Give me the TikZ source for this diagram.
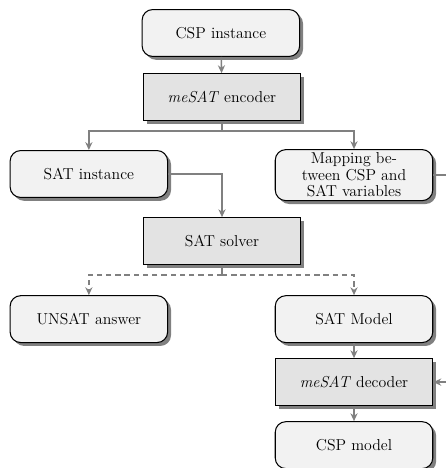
\documentclass[tikz,border=0pt]{standalone}
\usetikzlibrary{positioning,shadows,arrows.meta}

\tikzset{
  data/.style={draw, thick, rounded corners=8pt, fill=gray!10, minimum width=4.2cm,
    minimum height=1.25cm, align=center, font=\large,
    drop shadow={shadow xshift=0.9mm, shadow yshift=-0.9mm, opacity=1, fill=black!50}},
  proc/.style={draw, thick, fill=gray!22, minimum width=4.2cm, minimum height=1.25cm,
    align=center, font=\large,
    drop shadow={shadow xshift=0.9mm, shadow yshift=-0.9mm, opacity=1, fill=black!50}},
  flow/.style={draw=gray, very thick, -{Stealth[length=2.1mm,width=1.9mm]}},
}

\begin{document}
\begin{tikzpicture}
  \useasboundingbox (0,0) rectangle (11.89,-12.48);

  % nodes
  \node[data] (cspinst) at (5.89,-0.88) {CSP instance};
  \node[proc] (encoder) at (5.92,-2.59) {\textit{meSAT} encoder};
  \node[data] (satinst) at (2.37,-4.64) {SAT instance};
  \node[data, minimum height=1.36cm, inner sep=2pt] (mapping) at (9.44,-4.67) {Mapping be-\\[-1.5pt]tween CSP and\\[-1.5pt]SAT variables};
  \node[proc] (solver) at (5.92,-6.43) {SAT solver};
  \node[data] (unsat) at (2.37,-8.51) {UNSAT answer};
  \node[data] (satmodel) at (9.44,-8.51) {SAT Model};
  \node[proc] (decoder) at (9.44,-10.19) {\textit{meSAT} decoder};
  \node[data] (cspmodel) at (9.44,-11.87) {CSP model};

  \coordinate (encsplit) at (5.92,-3.49);
  \coordinate (solsplit) at (5.92,-7.33);
  \coordinate (mapturn) at (12.4,-4.67);

  % connectors
  \draw[flow] (cspinst) -- (encoder);
  \draw[very thick, draw=gray] (encoder.south) -- (encsplit);
  \draw[flow] (encsplit) -| (satinst.north);
  \draw[flow] (encsplit) -| (mapping.north);
  \draw[flow] (satinst.east) -| (solver.north);
  \draw[very thick, draw=gray] (solver.south) -- (solsplit);
  \draw[flow, dash pattern=on 4pt off 3pt] (solsplit) -| (unsat.north);
  \draw[flow, dash pattern=on 4pt off 3pt] (solsplit) -| (satmodel.north);
  \draw[flow] (satmodel) -- (decoder);
  \draw[flow] (decoder) -- (cspmodel);
  \draw[flow] (mapping.east) -- (mapturn) |- (decoder.east);
\end{tikzpicture}
\end{document}
